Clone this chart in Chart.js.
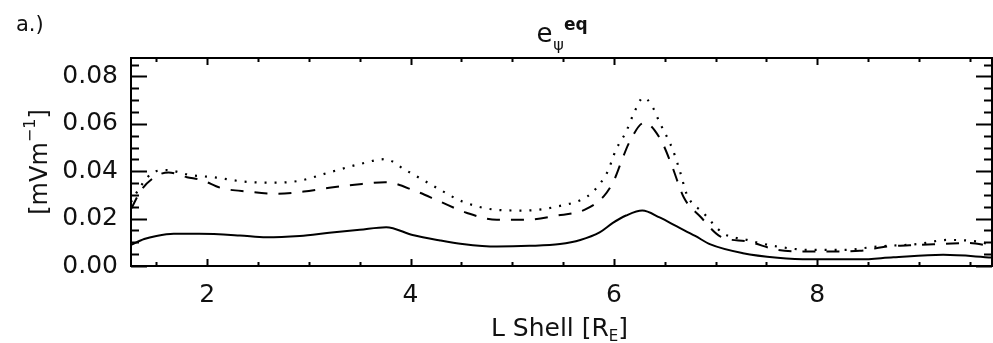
<!DOCTYPE html>
<html>
<head>
<meta charset="utf-8">
<script src="https://cdn.jsdelivr.net/npm/chart.js@4.4.1/dist/chart.umd.min.js"></script>
<style>
  html, body { margin: 0; padding: 0; background: #fff; }
  #wrap { width: 993px; height: 343px; position: relative; }
</style>
</head>
<body>
<div id="wrap"><canvas id="c" width="993" height="343"></canvas></div>
<script>
// L shell positions and equatorial field amplitude for each curve
const lSolid = [1.25, 1.38, 1.50, 1.67, 1.92, 2.32, 2.58, 2.91, 3.20, 3.50, 3.76, 4.02, 4.29, 4.51, 4.85, 5.17, 5.47, 5.67, 5.86, 5.99, 6.12, 6.28, 6.45, 6.62, 6.80, 6.95, 7.27, 7.61, 7.93, 8.42, 8.75, 9.24, 9.72];
const eSolid = [0.0089, 0.0114, 0.0127, 0.0136, 0.0136, 0.0129, 0.0121, 0.0127, 0.0140, 0.0153, 0.0164, 0.0131, 0.0108, 0.0093, 0.0082, 0.0085, 0.0093, 0.0110, 0.0142, 0.0182, 0.0213, 0.0234, 0.0205, 0.0167, 0.0127, 0.0091, 0.0054, 0.0035, 0.0028, 0.0028, 0.0037, 0.0047, 0.0036];

const lDashed = [1.25, 1.35, 1.50, 1.62, 1.80, 1.95, 2.13, 2.40, 2.70, 2.95, 3.20, 3.45, 3.75, 4.05, 4.28, 4.55, 4.85, 5.13, 5.43, 5.71, 5.90, 6.00, 6.07, 6.15, 6.30, 6.46, 6.56, 6.69, 6.85, 7.05, 7.32, 7.61, 7.90, 8.16, 8.42, 8.69, 8.98, 9.24, 9.50, 9.72];
const eDashed = [0.0240, 0.0320, 0.0380, 0.0395, 0.0375, 0.0362, 0.0330, 0.0314, 0.0305, 0.0314, 0.0330, 0.0343, 0.0354, 0.0316, 0.0274, 0.0225, 0.0195, 0.0195, 0.0212, 0.0237, 0.0294, 0.0360, 0.0436, 0.0520, 0.0605, 0.0534, 0.0436, 0.0288, 0.0209, 0.0124, 0.0103, 0.0068, 0.0061, 0.0061, 0.0064, 0.0082, 0.0089, 0.0093, 0.0097, 0.0082];

const lDotted = [1.25, 1.35, 1.45, 1.60, 1.82, 2.09, 2.39, 2.68, 2.91, 3.20, 3.50, 3.75, 3.95, 4.12, 4.29, 4.51, 4.85, 5.11, 5.44, 5.74, 5.85, 5.94, 6.02, 6.12, 6.20, 6.29, 6.37, 6.45, 6.58, 6.65, 6.72, 6.88, 7.07, 7.31, 7.61, 7.93, 8.26, 8.59, 8.99, 9.28, 9.58, 9.72];
const eDotted = [0.0270, 0.0340, 0.0390, 0.0405, 0.0385, 0.0373, 0.0355, 0.0352, 0.0360, 0.0395, 0.0430, 0.0451, 0.0405, 0.0364, 0.0322, 0.0272, 0.0237, 0.0234, 0.0251, 0.0294, 0.0340, 0.0400, 0.0490, 0.0566, 0.0648, 0.0711, 0.0680, 0.0606, 0.0490, 0.0400, 0.0300, 0.0225, 0.0140, 0.0110, 0.0082, 0.0068, 0.0068, 0.0082, 0.0093, 0.0110, 0.0103, 0.0089];

// axis ranges and labelled ticks
const xRange = [1.25, 9.72];
const yRange = [0, 0.0878];
const xTickValues = [2, 4, 6, 8];
const yTickValues = [0, 0.02, 0.04, 0.06, 0.08];
const xMinorStep = 0.5;
const yMinorStep = 0.005;

const FONT = '"DejaVu Sans", sans-serif';
const INK = '#111';

const pairs = (xs, ys) => xs.map((x, i) => ({ x, y: ys[i] }));

// tick marks pointing into the plot on all four sides
const inwardTicks = {
  id: 'inwardTicks',
  afterDraw(chart) {
    const { ctx, chartArea: a, scales } = chart;
    const xs = scales.x, ys = scales.y;
    ctx.save();
    ctx.strokeStyle = '#000';
    ctx.lineWidth = 2;
    ctx.beginPath();
    const nx = Math.round((xRange[1] - xRange[0]) / xMinorStep) + 2;
    for (let i = 0; i < nx; i++) {
      const v = Math.ceil(xRange[0] / xMinorStep) * xMinorStep + i * xMinorStep;
      if (v > xRange[1]) break;
      const major = xTickValues.some(t => Math.abs(t - v) < 1e-9);
      const len = major ? 7 : 4;
      const px = Math.round(xs.getPixelForValue(v)) + 0.5;
      ctx.moveTo(px, a.bottom); ctx.lineTo(px, a.bottom - len);
      ctx.moveTo(px, a.top); ctx.lineTo(px, a.top + len);
    }
    const ny = Math.round((yRange[1] - yRange[0]) / yMinorStep) + 2;
    for (let i = 0; i < ny; i++) {
      const v = yRange[0] + i * yMinorStep;
      if (v > yRange[1] + 1e-12) break;
      const major = yTickValues.some(t => Math.abs(t - v) < 1e-9);
      const len = major ? 16 : 8;
      const py = Math.round(ys.getPixelForValue(v)) + 0.5;
      ctx.moveTo(a.left, py); ctx.lineTo(a.left + len, py);
      ctx.moveTo(a.right, py); ctx.lineTo(a.right - len, py);
    }
    ctx.stroke();
    ctx.restore();
  }
};

// panel tag, title with sub/superscripts and axis titles
const annotations = {
  id: 'annotations',
  afterDraw(chart) {
    const { ctx, chartArea: a } = chart;
    ctx.save();
    ctx.fillStyle = INK;
    ctx.textBaseline = 'alphabetic';
    ctx.textAlign = 'left';

    ctx.font = '21px ' + FONT;
    ctx.fillText('a.)', 16, 31);

    // title: e with subscript psi and superscript eq
    const cx = (a.left + a.right) / 2;
    ctx.font = '26px ' + FONT;
    const wE = ctx.measureText('e').width;
    ctx.font = '16px ' + FONT;
    const wSub = ctx.measureText('ψ').width;
    ctx.font = 'bold 17px ' + FONT;
    const wSup = ctx.measureText('eq').width;
    const x0 = cx - (wE + wSub + wSup) / 2;
    ctx.font = '26px ' + FONT;
    ctx.fillText('e', x0, 42);
    ctx.font = '16px ' + FONT;
    ctx.fillText('ψ', x0 + wE + 1, 50);
    ctx.font = 'bold 17px ' + FONT;
    ctx.fillText('eq', x0 + wE + wSub + 1, 30);

    // x axis title: L Shell [R_E]
    ctx.font = '25px ' + FONT;
    const p1 = 'L Shell [R';
    const w1 = ctx.measureText(p1).width;
    const w3 = ctx.measureText(']').width;
    ctx.font = '15px ' + FONT;
    const w2 = ctx.measureText('E').width;
    const xs0 = cx - (w1 + w2 + w3) / 2 - 2;
    ctx.font = '25px ' + FONT;
    ctx.fillText(p1, xs0, 336);
    ctx.font = '15px ' + FONT;
    ctx.fillText('E', xs0 + w1, 341);
    ctx.font = '25px ' + FONT;
    ctx.fillText(']', xs0 + w1 + w2, 336);

    // y axis title: [mVm^-1], reading upwards
    ctx.translate(47, (a.top + a.bottom) / 2);
    ctx.rotate(-Math.PI / 2);
    ctx.font = '24px ' + FONT;
    const q1 = '[mVm';
    const u1 = ctx.measureText(q1).width;
    const u3 = ctx.measureText(']').width;
    ctx.font = '16px ' + FONT;
    const u2 = ctx.measureText('−1').width;
    const u0 = -(u1 + u2 + u3) / 2;
    ctx.font = '24px ' + FONT;
    ctx.fillText(q1, u0, 0);
    ctx.font = '16px ' + FONT;
    ctx.fillText('−1', u0 + u1, -12);
    ctx.font = '24px ' + FONT;
    ctx.fillText(']', u0 + u1 + u2, 0);
    ctx.restore();
  }
};

const frameBorder = { display: true, color: '#000', width: 2 };
const fixedTicks = values => scale => { scale.ticks = values.map(v => ({ value: v })); };

new Chart(document.getElementById('c'), {
  type: 'line',
  data: {
    datasets: [
      { data: pairs(lSolid, eSolid), borderColor: '#000', borderWidth: 2, pointRadius: 0, cubicInterpolationMode: 'monotone' },
      { data: pairs(lDashed, eDashed), borderColor: '#000', borderWidth: 2, borderDash: [13, 11], pointRadius: 0, cubicInterpolationMode: 'monotone' },
      { data: pairs(lDotted, eDotted), borderColor: '#000', borderWidth: 2.2, borderDash: [2, 8], pointRadius: 0, cubicInterpolationMode: 'monotone' }
    ]
  },
  options: {
    responsive: false,
    animation: false,
    devicePixelRatio: 1,
    layout: { padding: 0 },
    plugins: { legend: { display: false }, tooltip: { enabled: false }, title: { display: false } },
    scales: {
      x: {
        type: 'linear', position: 'bottom', min: xRange[0], max: xRange[1],
        afterBuildTicks: fixedTicks(xTickValues),
        afterFit: s => { s.height = 77; },
        grid: { display: false, drawTicks: false },
        border: frameBorder,
        ticks: { color: INK, font: { family: FONT, size: 25 }, padding: 14, maxRotation: 0, callback: v => String(v) }
      },
      x2: {
        type: 'linear', position: 'top', min: xRange[0], max: xRange[1],
        afterFit: s => { s.height = 58; },
        grid: { display: false, drawTicks: false },
        border: frameBorder,
        ticks: { display: false }
      },
      y: {
        type: 'linear', position: 'left', min: yRange[0], max: yRange[1],
        afterBuildTicks: fixedTicks(yTickValues),
        afterFit: s => { s.width = 131; },
        grid: { display: false, drawTicks: false },
        border: frameBorder,
        ticks: { color: INK, font: { family: FONT, size: 25 }, padding: 13, callback: v => Number(v).toFixed(2) }
      },
      y2: {
        type: 'linear', position: 'right', min: yRange[0], max: yRange[1],
        afterFit: s => { s.width = 1; },
        grid: { display: false, drawTicks: false },
        border: frameBorder,
        ticks: { display: false }
      }
    }
  },
  plugins: [inwardTicks, annotations]
});
</script>
</body>
</html>
